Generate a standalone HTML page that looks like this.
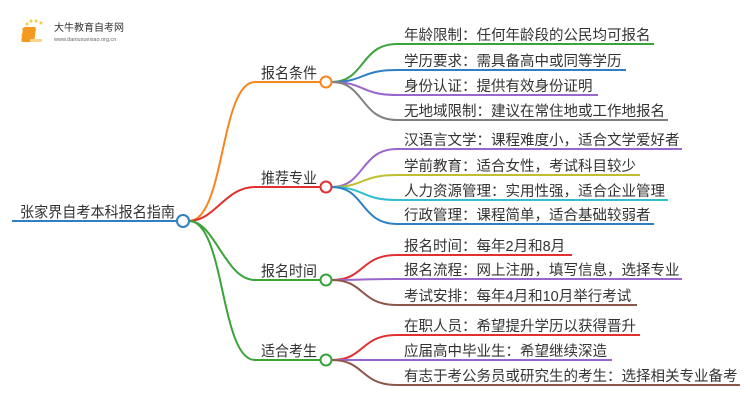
<!DOCTYPE html>
<html><head><meta charset="utf-8"><style>
html,body{margin:0;padding:0;background:#fff;width:750px;height:410px;overflow:hidden}
text{font-family:"Liberation Sans","Noto Sans CJK SC",sans-serif;fill:#333}
</style></head><body>
<svg width="750" height="410" viewBox="0 0 750 410" xmlns="http://www.w3.org/2000/svg" fill="none">
<!-- logo -->
<g>
<circle cx="27" cy="24" r="1.5" fill="#f9c94a"/><circle cx="31" cy="21" r="1.5" fill="#f9c94a"/><circle cx="36" cy="21" r="1.5" fill="#f9c94a"/><circle cx="41" cy="23" r="1.5" fill="#f9c94a"/><circle cx="23" cy="29" r="1.2" fill="#f9d77a"/><circle cx="22" cy="35" r="1.2" fill="#f9d77a"/>
<rect x="27" y="27" width="13" height="15" rx="2" fill="#f59a1e" transform="skewX(-8)"/>
<rect x="30" y="39" width="12" height="3" fill="#fbd38a"/>
<text x="54" y="31" font-size="10" style="fill:#333">大牛教育自考网</text>
<text x="54" y="41" font-size="5.5" style="fill:#666">www.daniuxuexiao.org.cn</text>
</g>
<!-- root -->
<path d="M12 221H177" stroke="#2f7fc4" stroke-width="2"/>
<text x="20" y="217" font-size="15" textLength="155" lengthAdjust="spacingAndGlyphs">张家界自考本科报名指南</text>
<!-- root -> branches -->
<path d="M189 221C225 221 220 82 255 82H320" stroke="#f7861e" stroke-width="2"/>
<path d="M189 221C215 221 225 187 255 187H320" stroke="#e0302f" stroke-width="2"/>
<path d="M189 221C215 221 225 280 255 280H320" stroke="#3aa33a" stroke-width="2"/>
<path d="M189 221C225 221 220 360 255 360H320" stroke="#3aa33a" stroke-width="2"/>
<circle cx="183" cy="221" r="6" fill="#fff" stroke="#2f7fc4" stroke-width="2"/>
<text x="261" y="78" font-size="15" textLength="56" lengthAdjust="spacingAndGlyphs">报名条件</text>
<text x="261" y="183" font-size="15" textLength="56" lengthAdjust="spacingAndGlyphs">推荐专业</text>
<text x="261" y="276" font-size="15" textLength="56" lengthAdjust="spacingAndGlyphs">报名时间</text>
<text x="261" y="356" font-size="15" textLength="56" lengthAdjust="spacingAndGlyphs">适合考生</text>
<!-- leaves group 1 -->
<g stroke-width="2">
<path d="M332 82C365 82 360 44 397 44H654" stroke="#3aa33a"/>
<path d="M332 82C365 82 360 70 397 70H626" stroke="#2f7fc4"/>
<path d="M332 82C365 82 360 95 397 95H598" stroke="#9966cc"/>
<path d="M332 82C365 82 360 120 397 120H668" stroke="#808080"/>
<path d="M332 187C365 187 360 149 397 149H682" stroke="#9966cc"/>
<path d="M332 187C365 187 360 175 397 175H640" stroke="#bfbf2f"/>
<path d="M332 187C365 187 360 200 397 200H668" stroke="#2fbfd0"/>
<path d="M332 187C365 187 360 224 397 224H654" stroke="#2f7fc4"/>
<path d="M332 280C365 280 360 255 397 255H572" stroke="#e0302f"/>
<path d="M332 280C365 280 360 279 397 279H682" stroke="#9966cc"/>
<path d="M332 280C365 280 360 305 397 305H637" stroke="#8c564b"/>
<path d="M332 360C365 360 360 335 397 335H640" stroke="#e0302f"/>
<path d="M332 360C365 360 360 360 397 360H612" stroke="#9966cc"/>
<path d="M332 360C365 360 360 385 397 385H740" stroke="#8c564b"/>
</g>
<circle cx="326" cy="82" r="5.5" fill="#fff" stroke="#f7861e" stroke-width="2"/>
<circle cx="326" cy="187" r="5.5" fill="#fff" stroke="#e0302f" stroke-width="2"/>
<circle cx="326" cy="280" r="5.5" fill="#fff" stroke="#3aa33a" stroke-width="2"/>
<circle cx="326" cy="360" r="5.5" fill="#fff" stroke="#3aa33a" stroke-width="2"/>
<g font-size="14.5">
<text x="404" y="40">年龄限制：任何年龄段的公民均可报名</text>
<text x="404" y="66">学历要求：需具备高中或同等学历</text>
<text x="404" y="91">身份认证：提供有效身份证明</text>
<text x="404" y="116">无地域限制：建议在常住地或工作地报名</text>
<text x="404" y="145">汉语言文学：课程难度小，适合文学爱好者</text>
<text x="404" y="171">学前教育：适合女性，考试科目较少</text>
<text x="404" y="196">人力资源管理：实用性强，适合企业管理</text>
<text x="404" y="220">行政管理：课程简单，适合基础较弱者</text>
<text x="404" y="251">报名时间：每年2月和8月</text>
<text x="404" y="275">报名流程：网上注册，填写信息，选择专业</text>
<text x="404" y="301">考试安排：每年4月和10月举行考试</text>
<text x="404" y="331">在职人员：希望提升学历以获得晋升</text>
<text x="404" y="356">应届高中毕业生：希望继续深造</text>
<text x="404" y="381">有志于考公务员或研究生的考生：选择相关专业备考</text>
</g>
</svg>
</body></html>
